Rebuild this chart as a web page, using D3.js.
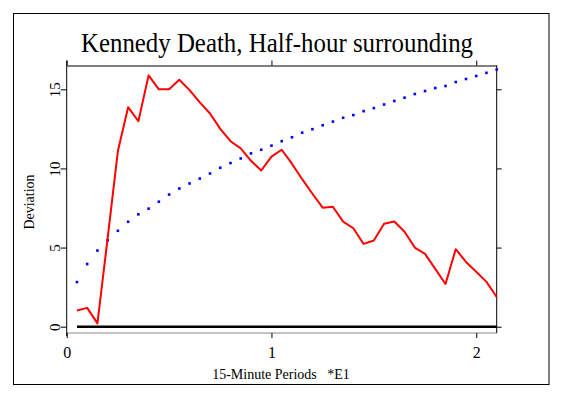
<!DOCTYPE html>
<html>
<head>
<meta charset="utf-8">
<script src="https://cdn.jsdelivr.net/npm/d3@7"></script>
<style>
  body { margin: 0; background: #fff; }
  svg text { font-family: "Liberation Serif", "DejaVu Serif", serif; fill: #000; }
</style>
</head>
<body>
<svg width="562" height="395"></svg>
<script>
// Half-hour periods (in units of 15-minute periods * 10)
const periods = [0.05, 0.1, 0.15, 0.2, 0.25, 0.3, 0.35, 0.4, 0.45, 0.5,
  0.55, 0.6, 0.65, 0.7, 0.75, 0.8, 0.85, 0.9, 0.95, 1.0,
  1.05, 1.1, 1.15, 1.2, 1.25, 1.3, 1.35, 1.4, 1.45, 1.5,
  1.55, 1.6, 1.65, 1.7, 1.75, 1.8, 1.85, 1.9, 1.95, 2.0,
  2.05, 2.1];

// cumulative deviation (red)
const deviation = [1.02, 1.19, 0.21, 5.6, 11.1, 13.87, 12.98, 15.88, 15.0, 15.0,
  15.6, 14.95, 14.17, 13.47, 12.5, 11.72, 11.27, 10.48, 9.87, 10.75,
  11.18, 10.3, 9.32, 8.4, 7.52, 7.58, 6.64, 6.22, 5.23, 5.45,
  6.5, 6.65, 6.0, 5.0, 4.6, 3.65, 2.7, 4.9, 4.09, 3.47,
  2.83, 1.88];

// significance envelope (blue dots)
const envelope = [2.82, 3.96, 4.81, 5.46, 6.06, 6.63, 7.1, 7.46, 7.9, 8.35,
  8.73, 9.05, 9.36, 9.68, 10.04, 10.34, 10.63, 10.95, 11.18, 11.44,
  11.72, 11.97, 12.26, 12.48, 12.73, 12.96, 13.2, 13.37, 13.62, 13.81,
  14.04, 14.26, 14.47, 14.7, 14.89, 15.08, 15.21, 15.46, 15.65, 15.84,
  16.04, 16.25];

const xTicks = [0, 1, 2];
const yTicks = [0, 5, 10, 15];

const title = "Kennedy Death, Half-hour surrounding";
const xLabel = "15-Minute Periods   *E1";
const yLabel = "Deviation";

const serif = "'Liberation Serif', 'DejaVu Serif', serif";
const svg = d3.select("svg");

// outer frame
svg.append("rect")
  .attr("x", 13.5).attr("y", 13.5)
  .attr("width", 535.5).attr("height", 371)
  .attr("fill", "none").attr("stroke", "#000").attr("stroke-width", 1);

const plotLeft = 66.7, plotRight = 496.7, plotTop = 65.5, plotBottom = 333;

const x = d3.scaleLinear().domain([0, 2.1]).range([plotLeft, plotRight]);
const y = d3.scaleLinear().domain([0, 15]).range([326.7, 89.3]);

// plot box: gray bottom
svg.append("line")
  .attr("x1", plotLeft).attr("x2", plotRight).attr("y1", plotBottom).attr("y2", plotBottom)
  .attr("stroke", "#888").attr("stroke-width", 1);

// top axis
svg.append("g")
  .attr("transform", `translate(0,${plotTop})`)
  .call(d3.axisTop(x).tickValues(xTicks).tickSize(5).tickSizeOuter(0).tickFormat(""))
  .call(g => g.select(".domain").attr("stroke", "#000"));

// bottom axis ticks and labels
const bx = svg.append("g")
  .attr("transform", `translate(0,${plotBottom})`)
  .call(d3.axisBottom(x).tickValues(xTicks).tickSize(5).tickSizeOuter(0)
    .tickPadding(9).tickFormat(d3.format("d")));
bx.select(".domain").remove();
bx.selectAll("text")
  .style("font-family", serif)
  .style("font-size", "16px")
  .attr("fill", "#000");

// left axis
const ly = svg.append("g")
  .attr("transform", `translate(${plotLeft},0)`)
  .call(d3.axisLeft(y).tickValues(yTicks).tickSize(6).tickSizeOuter(0).tickFormat(d3.format("d")));
ly.select(".domain").attr("d", `M0,${plotTop - 5}V${plotBottom + 3}`);
ly.selectAll(".tick text")
  .attr("x", null).attr("dy", null)
  .attr("text-anchor", "middle")
  .style("font-family", serif)
  .style("font-size", "15px")
  .attr("fill", "#000")
  .attr("transform", "translate(-7,0) rotate(-90)");

// right axis
const ry = svg.append("g")
  .attr("transform", `translate(${plotRight},0)`)
  .call(d3.axisRight(y).tickValues(yTicks).tickSize(5).tickSizeOuter(0).tickFormat(""));
ry.select(".domain").attr("d", `M0,${plotTop}V${plotBottom}`);

// zero line
svg.append("line")
  .attr("x1", x(periods[0])).attr("x2", x(periods[periods.length - 1]))
  .attr("y1", y(0)).attr("y2", y(0))
  .attr("stroke", "#000").attr("stroke-width", 2.5);

// blue dots
svg.append("g")
  .selectAll("rect")
  .data(envelope)
  .join("rect")
  .attr("x", (d, i) => x(periods[i]) - 1.3)
  .attr("y", d => y(d) - 1.3)
  .attr("width", 2.6).attr("height", 2.6)
  .attr("fill", "#0000ff");

// red deviation line
const line = d3.line()
  .x((d, i) => x(periods[i]))
  .y(d => y(d));

svg.append("path")
  .datum(deviation)
  .attr("d", line)
  .attr("fill", "none")
  .attr("stroke", "#ff0000")
  .attr("stroke-width", 2)
  .attr("stroke-linejoin", "round");

// title
svg.append("text")
  .attr("x", 277).attr("y", 52)
  .attr("text-anchor", "middle")
  .style("font-family", serif)
  .style("font-size", "27px")
  .attr("textLength", 392)
  .attr("lengthAdjust", "spacingAndGlyphs")
  .text(title);

// axis labels
svg.append("text")
  .attr("x", 281).attr("y", 379)
  .attr("text-anchor", "middle")
  .style("font-family", serif)
  .style("font-size", "14px")
  .style("white-space", "pre")
  .text(xLabel);

svg.append("text")
  .attr("transform", "translate(34,202) rotate(-90)")
  .attr("text-anchor", "middle")
  .style("font-family", serif)
  .style("font-size", "14px")
  .text(yLabel);
</script>
</body>
</html>
